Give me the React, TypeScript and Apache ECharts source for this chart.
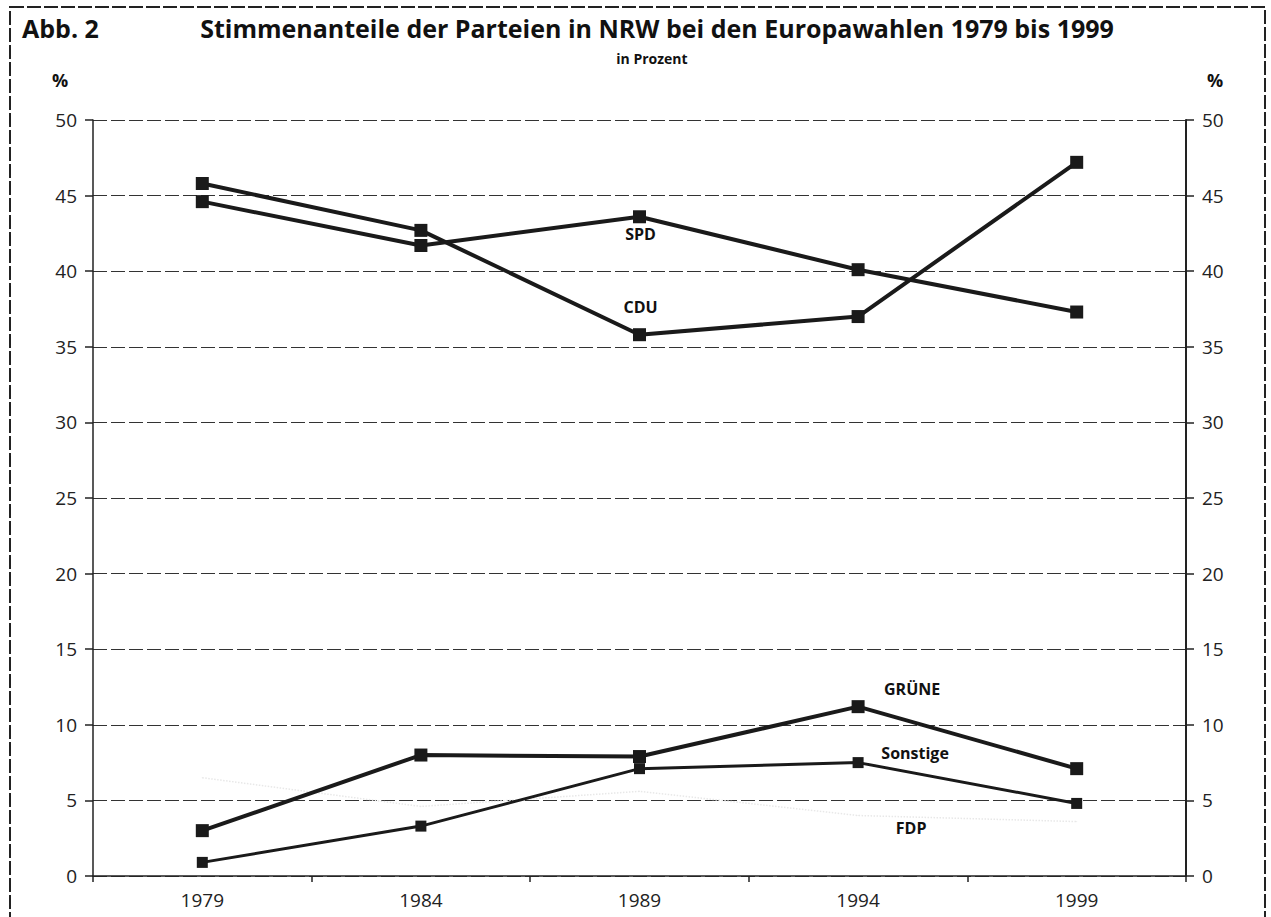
import React, { useEffect, useRef } from 'react';
import * as echarts from 'echarts';

const years = ['1979', '1984', '1989', '1994', '1999'];
const cdu = [45.8, 42.7, 35.8, 37.0, 47.2];
const spd = [44.6, 41.7, 43.6, 40.1, 37.3];
const gruene = [3.0, 8.0, 7.9, 11.2, 7.1];
const sonstige = [0.9, 3.3, 7.1, 7.5, 4.8];
const fdp = [6.5, 4.6, 5.6, 4.0, 3.6];

const titleText = 'Stimmenanteile der Parteien in NRW bei den Europawahlen 1979 bis 1999';
const subTitle = 'in Prozent';
const figLabel = 'Abb. 2';

const FONT = '"Open Sans", "Noto Sans", sans-serif';
const INK = '#1a1a1a';

function labelled(values: number[], idx: number, text: string, offset: number[]) {
  return values.map((v, i) =>
    i === idx
      ? {
          value: v,
          label: {
            show: true,
            formatter: text,
            position: 'inside',
            offset,
            color: '#111',
            fontFamily: FONT,
            fontWeight: 'bold',
            fontSize: 16,
            textBorderWidth: 0,
          },
        }
      : v
  );
}

export default function App() {
  const ref = useRef<HTMLDivElement>(null);
  useEffect(() => {
    const chart = echarts.init(ref.current!, null, { renderer: 'svg' });
    const mainLine = (name: string, data: any[], width: number, size: number) => ({
      name,
      type: 'line',
      data,
      symbol: 'rect',
      symbolSize: size,
      lineStyle: { color: INK, width },
      itemStyle: { color: INK },
      z: 5,
    });
    chart.setOption({
      animation: false,
      backgroundColor: '#fff',
      grid: { left: 93, right: 85, top: 120, bottom: 41 },
      xAxis: {
        type: 'category',
        data: years,
        boundaryGap: true,
        axisLine: { lineStyle: { color: '#222', width: 1.5 } },
        axisTick: { show: true, length: 6, lineStyle: { color: '#222', width: 1.5 } },
        axisLabel: { color: '#222', fontFamily: FONT, fontSize: 19, margin: 14, interval: 0 },
      },
      yAxis: [
        {
          type: 'value',
          min: 0,
          max: 50,
          interval: 5,
          position: 'left',
          axisLine: { show: true, lineStyle: { color: '#222', width: 1.5 } },
          axisTick: { show: true, length: 8, lineStyle: { color: '#222', width: 1.5 } },
          axisLabel: { color: '#222', fontFamily: FONT, fontSize: 19, margin: 16 },
          splitLine: { show: true, lineStyle: { color: '#333', width: 1, type: [14, 4] } },
        },
        {
          type: 'value',
          min: 0,
          max: 50,
          interval: 5,
          position: 'right',
          axisLine: { show: true, lineStyle: { color: '#222', width: 2 } },
          axisTick: { show: true, length: 8, lineStyle: { color: '#222', width: 1.5 } },
          axisLabel: { color: '#222', fontFamily: FONT, fontSize: 19, margin: 16 },
          splitLine: { show: false },
        },
      ],
      series: [
        mainLine('CDU', labelled(cdu, 2, 'CDU', [1, -28]), 4, 13),
        mainLine('SPD', labelled(spd, 2, 'SPD', [1, 17]), 4, 13),
        mainLine('GRÜNE', labelled(gruene, 3, 'GRÜNE', [54, -18]), 4, 13),
        mainLine('Sonstige', labelled(sonstige, 3, 'Sonstige', [57, -10]), 3, 11),
        {
          name: 'FDP',
          type: 'line',
          data: labelled(fdp, 3, 'FDP', [53, 12]),
          symbol: 'circle',
          symbolSize: 1,
          showSymbol: true,
          lineStyle: { color: '#e8e8e8', width: 1.5, type: 'dotted' },
          itemStyle: { color: '#e8e8e8' },
          z: 3,
        },
      ],
      graphic: [
        {
          type: 'rect',
          shape: { x: 10, y: 7, width: 1255, height: 930 },
          style: { fill: 'none', stroke: '#222', lineWidth: 2, lineDash: [14, 3] },
          silent: true,
        },
        {
          type: 'text',
          x: 22,
          y: 28,
          style: { text: figLabel, fill: '#111', font: `bold 25px ${FONT}`, textVerticalAlign: 'middle' },
        },
        {
          type: 'text',
          x: 657,
          y: 28,
          style: { text: titleText, fill: '#111', font: `bold 25px ${FONT}`, textAlign: 'center', textVerticalAlign: 'middle' },
        },
        {
          type: 'text',
          x: 652,
          y: 58,
          style: { text: subTitle, fill: '#111', font: `bold 14px ${FONT}`, textAlign: 'center', textVerticalAlign: 'middle' },
        },
        {
          type: 'text',
          x: 60,
          y: 80,
          style: { text: '%', fill: '#111', font: `bold 18px ${FONT}`, textAlign: 'center', textVerticalAlign: 'middle' },
        },
        {
          type: 'text',
          x: 1215,
          y: 80,
          style: { text: '%', fill: '#111', font: `bold 18px ${FONT}`, textAlign: 'center', textVerticalAlign: 'middle' },
        },
      ],
    });
    return () => chart.dispose();
  }, []);
  return (
    <div
      ref={ref}
      style={{ position: 'fixed', left: 0, top: 0, width: 1271, height: 917, background: '#fff' }}
    />
  );
}
